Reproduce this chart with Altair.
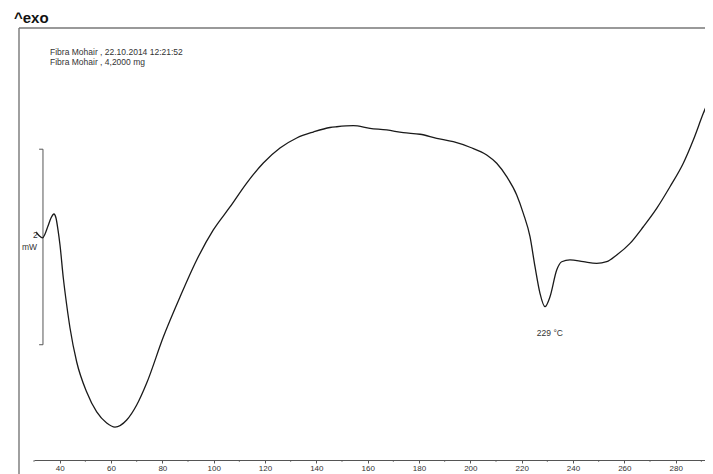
import altair as alt
import pandas as pd

# Temperature (°C) and heat flow (mW, arbitrary offset)
temp_c = [30.78, 31.95, 33.31, 34.29, 35.45, 36.62, 37.79, 38.57, 39.35, 40.13,
          41.42, 42.74, 44.03, 46.64, 50.53, 54.43, 58.32, 61.56, 66.12, 70.01,
          73.91, 80.38, 86.88, 93.39, 99.86, 106.36, 112.87, 119.34, 125.84, 132.35,
          138.82, 145.32, 147.93, 154.40, 160.91, 167.42, 173.89, 180.39, 186.90, 193.37,
          199.87, 206.38, 210.28, 214.17, 218.07, 220.64, 223.25, 225.20, 227.14, 229.09,
          231.04, 233.65, 235.60, 238.83, 244.01, 249.23, 253.13, 257.03, 262.21, 267.39,
          272.61, 277.79, 282.97, 286.87, 290.77, 294.04, 294.55]
heat_mw = [0.663, 0.627, 0.602, 0.643, 0.724, 0.806, 0.847, 0.806, 0.684, 0.530,
           0.192, -0.084, -0.319, -0.667, -0.974, -1.178, -1.291, -1.332, -1.260, -1.107,
           -0.882, -0.411, -0.002, 0.377, 0.684, 0.919, 1.164, 1.369, 1.522, 1.625,
           1.686, 1.732, 1.740, 1.751, 1.724, 1.707, 1.679, 1.663, 1.622, 1.587,
           1.530, 1.451, 1.366, 1.229, 1.042, 0.854, 0.615, 0.308, 0.036, -0.101,
           0.001, 0.274, 0.359, 0.377, 0.359, 0.343, 0.359, 0.428, 0.547, 0.717,
           0.905, 1.126, 1.366, 1.604, 1.877, 2.082, 2.116]

major_ticks = [40, 60, 80, 100, 120, 140, 160, 180, 200, 220, 240, 260, 280]
minor_ticks = [30, 50, 70, 90, 110, 130, 150, 170, 190, 210, 230, 250, 270, 290]

info_lines = ["Fibra Mohair , 22.10.2014 12:21:52", "Fibra Mohair , 4,2000 mg"]
peak_label = "229 °C"
peak_label_pos = [231.0, -0.37]

# 2 mW scale bar
bar_x = 33.5
bar_x_tick = 32.0
bar_lo, bar_hi = -0.49, 1.51

x_domain = [30, 291.43]
y_domain = [-1.7, 2.75]
W, H = 671, 435
AX_OFF = -3
FONT = "Liberation Sans"

xs = alt.Scale(domain=x_domain, nice=False, zero=False)
ys = alt.Scale(domain=y_domain, nice=False, zero=False)
x_axis = alt.Axis(values=major_ticks, title=None, grid=False, domainColor="#555",
                  tickColor="#555", tickSize=3, labelFontSize=8, labelColor="#333",
                  labelFont=FONT, labelPadding=1, offset=AX_OFF)


def X(field, with_axis=False):
    return alt.X(field, type="quantitative", scale=xs, axis=x_axis if with_axis else None)


def Y(field):
    return alt.Y(field, type="quantitative", scale=ys, axis=None)


curve_df = pd.DataFrame({"t": temp_c, "q": heat_mw})
curve = alt.Chart(curve_df).mark_line(
    color="#1a1a1a", strokeWidth=1.3, interpolate="monotone"
).encode(x=X("t", True), y=Y("q"))

minor_df = pd.DataFrame({"t": minor_ticks})
minor = alt.Chart(minor_df).mark_tick(
    color="#555", thickness=1, size=2, orient="vertical", yOffset=1
).encode(x=X("t"), y=alt.value(H + AX_OFF))

bar_df = pd.DataFrame({"x": [bar_x], "y": [bar_lo], "y2": [bar_hi]})
bar = alt.Chart(bar_df).mark_rule(color="#555", strokeWidth=1).encode(
    x=X("x"), y=Y("y"), y2=alt.Y2("y2")
)
cap_df = pd.DataFrame({"x": [bar_x_tick, bar_x_tick], "xe": [bar_x, bar_x],
                       "y": [bar_lo, bar_hi]})
caps = alt.Chart(cap_df).mark_rule(color="#555", strokeWidth=1).encode(
    x=X("x"), x2=alt.X2("xe"), y=Y("y")
)

peak_df = pd.DataFrame({"x": [peak_label_pos[0]], "y": [peak_label_pos[1]], "s": [peak_label]})
peak = alt.Chart(peak_df).mark_text(font=FONT, fontSize=8.5, color="#333").encode(
    x=X("x"), y=Y("y"), text="s:N"
)

# static texts placed in pixel space of the plot area
lab_df = pd.DataFrame({
    "s": [info_lines[0], info_lines[1], "2", "mW"],
    "px": [16, 16, -1, -12],
    "py": [27, 37, 210, 222],
})
labels = alt.Chart(lab_df).mark_text(
    font=FONT, fontSize=8.5, align="left", baseline="alphabetic", color="#333"
).encode(
    x=alt.X("px:Q", scale=None, axis=None),
    y=alt.Y("py:Q", scale=None, axis=None),
    text="s:N",
)
title_df = pd.DataFrame({"s": ["^exo"], "px": [-20], "py": [-5]})
title = alt.Chart(title_df).mark_text(
    font=FONT, fontSize=15, fontWeight="bold", align="left", baseline="alphabetic", color="#111"
).encode(
    x=alt.X("px:Q", scale=None, axis=None),
    y=alt.Y("py:Q", scale=None, axis=None),
    text="s:N",
)

frame_df = pd.DataFrame({"x1": [-15, -15], "x2": [W, -15], "y1": [0, 0], "y2": [0, H + 20]})
frame = alt.Chart(frame_df).mark_rule(color="#777", strokeWidth=1.4).encode(
    x=alt.X("x1:Q", scale=None, axis=None), x2="x2:Q",
    y=alt.Y("y1:Q", scale=None, axis=None), y2="y2:Q",
)

chart = alt.layer(
    frame, minor, bar, caps, curve, peak, labels, title
).resolve_scale(x="independent", y="independent").properties(
    width=W, height=H,
    autosize=alt.AutoSizeParams(type="none"),
    padding={"left": 26, "top": 20, "right": 0, "bottom": 11},
).configure_view(stroke=None)

chart.save("out.html", embed_options={"renderer": "svg", "actions": False})
